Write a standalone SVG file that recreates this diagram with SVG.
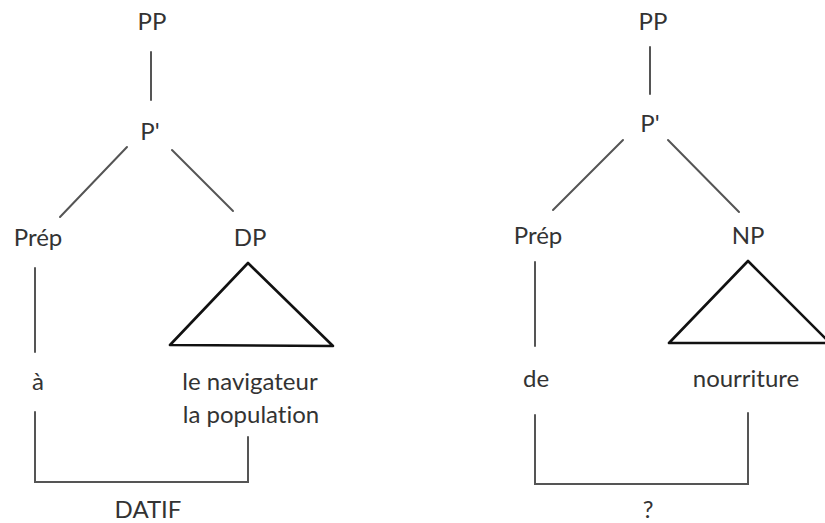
<svg xmlns="http://www.w3.org/2000/svg" width="825" height="523" viewBox="0 0 825 523">
<style>
text{font-family:Lato,"Open Sans","Liberation Sans",sans-serif;font-size:24px;fill:#333;text-anchor:middle;font-variant-ligatures:none}
.e{stroke:#555;stroke-width:2;fill:none;stroke-linecap:round}
.tri{stroke:#111;stroke-width:2.6;fill:none;stroke-linejoin:round}
</style>
<rect width="825" height="523" fill="#fff"/>
<g id="connectors">
<line class="e" x1="151" y1="52" x2="151" y2="100"/>
<line class="e" x1="127" y1="147" x2="60" y2="217"/>
<line class="e" x1="172" y1="150" x2="233" y2="211"/>
<line class="e" x1="35" y1="268" x2="35" y2="352"/>
<polyline class="e" points="35,412 35,482 248,482 248,437"/>
<line class="e" x1="650" y1="47" x2="650" y2="94"/>
<line class="e" x1="623" y1="140" x2="553" y2="210"/>
<line class="e" x1="668" y1="140" x2="739" y2="212"/>
<line class="e" x1="535" y1="262" x2="535" y2="346"/>
<polyline class="e" points="535,415 535,484 748,484 748,413"/>
</g>
<g id="left-pp"><text x="152" y="30">PP</text></g>
<g id="left-pbar"><text x="150" y="140">P'</text></g>
<g id="left-prep"><text x="38" y="246">Prép</text></g>
<g id="left-dp"><text x="250" y="246">DP</text>
<polygon class="tri" points="248,263 170,345 333,346"/></g>
<g id="left-a"><text x="38" y="390">à</text></g>
<g id="left-np-words"><text x="250" y="390">le navigateur</text><text x="251" y="423">la population</text></g>
<g id="left-label"><text x="148" y="518">DATIF</text></g>
<g id="right-pp"><text x="653" y="30">PP</text></g>
<g id="right-pbar"><text x="650" y="132">P'</text></g>
<g id="right-prep"><text x="538" y="244">Prép</text></g>
<g id="right-np"><text x="748" y="244">NP</text>
<polygon class="tri" points="748,261 669,343 830,343"/></g>
<g id="right-de"><text x="536" y="387">de</text></g>
<g id="right-word"><text x="746" y="387">nourriture</text></g>
<g id="right-label"><text x="648" y="518">?</text></g>
</svg>
